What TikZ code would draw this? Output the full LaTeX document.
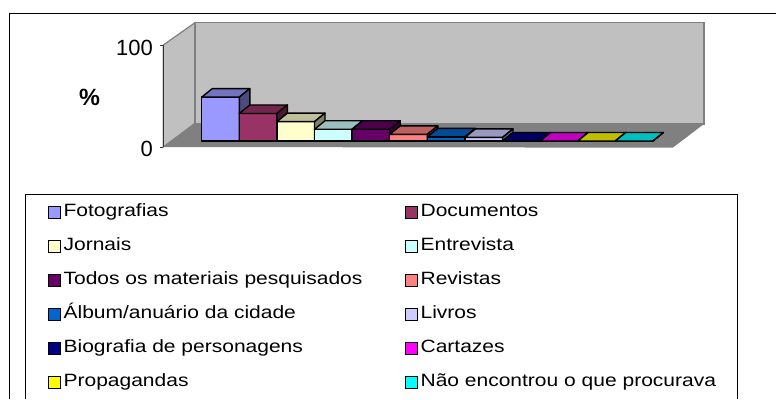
\documentclass[tikz,border=0pt]{standalone}
\usepackage{fontspec}
\setmainfont{Liberation Sans}[FakeStretch=1.18]
\newfontfamily\axisfont{Liberation Sans}
\usepackage{tikz}
\usetikzlibrary{positioning}
\usepackage{xcolor}

\definecolor{wall}{HTML}{C0C0C0}
\definecolor{floorgray}{HTML}{808080}
\definecolor{c1}{HTML}{9999FF}
\definecolor{c2}{HTML}{993366}
\definecolor{c3}{HTML}{FFFFCC}
\definecolor{c4}{HTML}{CCFFFF}
\definecolor{c5}{HTML}{660066}
\definecolor{c6}{HTML}{FF8080}
\definecolor{c7}{HTML}{0066CC}
\definecolor{c8}{HTML}{CCCCFF}
\definecolor{c9}{HTML}{000080}
\definecolor{c10}{HTML}{FF00FF}
\definecolor{c11}{HTML}{FFFF00}
\definecolor{c12}{HTML}{00FFFF}

\begin{document}
\begin{tikzpicture}[x=1pt,y=-1pt,
  key/.style={draw=black, line width=1.3pt, minimum size=11.5pt, inner sep=0pt},
  keytext/.style={inner sep=0pt, text height=12.6pt, text depth=3.7pt, font=\fontsize{17.8}{17.8}\selectfont},
  face/.style={draw=black, line width=1.4pt, line join=round}]
\useasboundingbox (0,0) rectangle (776,399);
\draw [black, line width=0.8pt] (9,399) |- (776,13);
% walls and floor
\draw [fill=wall, draw=floorgray, line width=1.2pt] (163.3,45) -- (195,22.7) -- (195,123.3) -- (163.3,147) -- cycle;
\draw [fill=wall, draw=floorgray, line width=1.2pt] (195,22.7) rectangle (704,124);
\path [fill=floorgray] (163.3,147) -- (195,123.3) -- (704,124) -- (672.7,147.7) -- cycle;
\draw [thin, black!80] (163.3,45) -- (163.3,147);
\draw [thin, black!80] (160,45) -- (163.3,45);
\draw [thin, black!80] (160,147) -- (163.3,147);
\node [anchor=east, inner sep=0pt, font=\axisfont\fontsize{22}{22}\selectfont] (ymax) at (153,47.5) {100};
\node [anchor=east, inner sep=0pt, font=\axisfont\fontsize{22}{22}\selectfont] (ymin) at (153,148.5) {0};
\node [inner sep=0pt, font=\axisfont\bfseries\fontsize{23.5}{23.5}\selectfont] (yunit) at (89.5,97.7) {\%};
% bars
\foreach \h/\col [count=\i from 0] in {43/c1,27/c2,19/c3,11.5/c4,11.5/c5,6.5/c6,4/c7,3.5/c8,0/c9,0/c10,0/c11,0/c12}{
  \pgfmathsetmacro{\xl}{201.7+\i*37.6}
  \pgfmathsetmacro{\xr}{\xl+37.6}
  \pgfmathsetmacro{\yt}{141-1.02*\h}
  \draw [face, fill=\col] (\xl,141) rectangle (\xr,\yt);
  \draw [face, fill=\col!75!black] (\xl,\yt) -- (\xr,\yt) -- (\xr+10.5,\yt-8.5) -- (\xl+10.5,\yt-8.5) -- cycle;
  \draw [face, fill=\col!50!black] (\xr,141) -- (\xr,\yt) -- (\xr+10.5,\yt-8.5) -- (\xr+10.5,132.5) -- cycle;
}
% legend
\draw [black, line width=0.8pt] (25.7,399) |- (737.3,194.3) -- (737.3,399);
\node [key, fill=c1] (k1) at (54.5,212.5) {};   \node [keytext, right=2.5pt of k1] (t1) {Fotografias};
\node [key, fill=c2] (k2) at (411.5,212.5) {};  \node [keytext, right=2.5pt of k2] (t2) {Documentos};
\node [key, fill=c3] (k3) at (54.5,246.5) {};   \node [keytext, right=2.5pt of k3] (t3) {Jornais};
\node [key, fill=c4] (k4) at (411.5,246.5) {};  \node [keytext, right=2.5pt of k4] (t4) {Entrevista};
\node [key, fill=c5] (k5) at (54.5,280.5) {};   \node [keytext, right=2.5pt of k5] (t5) {Todos os materiais pesquisados};
\node [key, fill=c6] (k6) at (411.5,280.5) {};  \node [keytext, right=2.5pt of k6] (t6) {Revistas};
\node [key, fill=c7] (k7) at (54.5,314.5) {};   \node [keytext, right=2.5pt of k7] (t7) {Álbum/anuário da cidade};
\node [key, fill=c8] (k8) at (411.5,314.5) {};  \node [keytext, right=2.5pt of k8] (t8) {Livros};
\node [key, fill=c9] (k9) at (54.5,348.5) {};   \node [keytext, right=2.5pt of k9] (t9) {Biografia de personagens};
\node [key, fill=c10] (k10) at (411.5,348.5) {}; \node [keytext, right=2.5pt of k10] (t10) {Cartazes};
\node [key, fill=c11] (k11) at (54.5,382.5) {};  \node [keytext, right=2.5pt of k11] (t11) {Propagandas};
\node [key, fill=c12] (k12) at (411.5,382.5) {}; \node [keytext, right=2.5pt of k12] (t12) {Não encontrou o que procurava};
\end{tikzpicture}
\end{document}
